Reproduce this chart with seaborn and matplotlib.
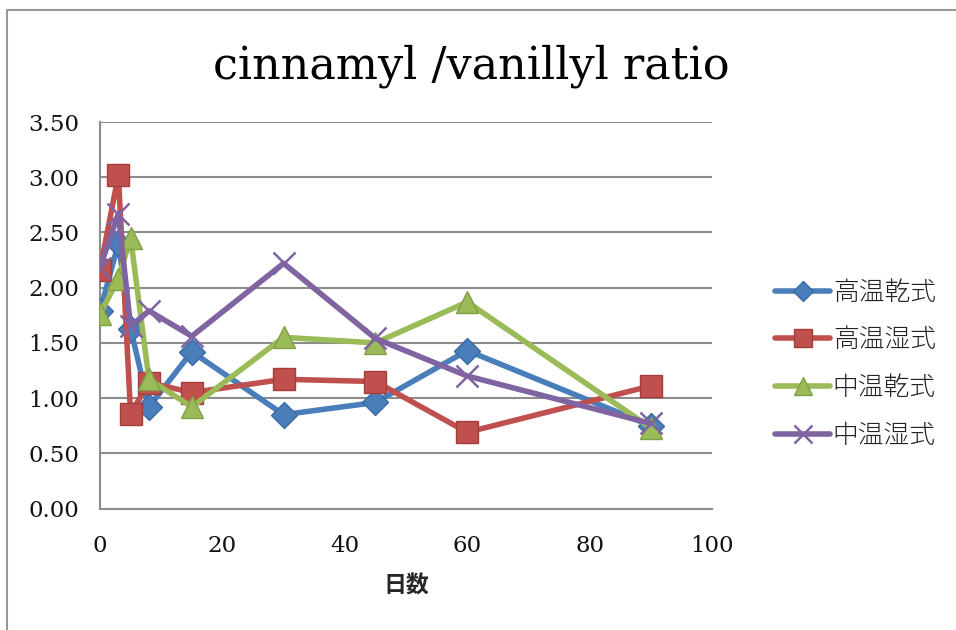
import matplotlib
matplotlib.use("Agg")
import matplotlib.pyplot as plt
from matplotlib.lines import Line2D
import seaborn as sns
import pandas as pd

# ---- data ----
days = [0, 3, 5, 8, 15, 30, 45, 60, 90]
series_names = ["高温乾式", "高温湿式", "中温乾式", "中温湿式"]
high_dry = [1.79, 2.40, 1.63, 0.92, 1.42, 0.85, 0.96, 1.43, 0.75]
high_wet = [2.16, 3.02, 0.86, 1.14, 1.05, 1.17, 1.15, 0.69, 1.11]
mid_dry = [1.76, 2.08, 2.45, 1.17, 0.92, 1.55, 1.50, 1.87, 0.73]
mid_wet = [2.18, 2.67, 1.65, 1.79, 1.56, 2.22, 1.54, 1.20, 0.77]
y_ticks = [0.0, 0.5, 1.0, 1.5, 2.0, 2.5, 3.0, 3.5]
x_ticks = [0, 20, 40, 60, 80, 100]
title = "cinnamyl /vanillyl ratio"
x_label = "日数"

values = [high_dry, high_wet, mid_dry, mid_wet]
df = pd.concat(
    [pd.DataFrame({"days": days, "value": v, "series": n}) for n, v in zip(series_names, values)],
    ignore_index=True,
)

colors = ["#4A7EBB", "#C0504D", "#9BBB59", "#8064A2"]
edge = ["#3A6AA5", "#A33D3A", "#7FA043", "#8064A2"]
markers = ["D", "s", "^", "x"]
msizes = [13, 15.5, 16, 16]

sns.set_theme(style="white")
plt.rcParams["font.family"] = ["DejaVu Serif", "Noto Sans CJK JP"]

fig = plt.figure(figsize=(9.56, 6.3), dpi=100)
ax = fig.add_axes([100 / 956, 1 - 508.5 / 630, 612 / 956, 386.5 / 630])

for i, name in enumerate(series_names):
    sub = df[df["series"] == name]
    sns.lineplot(
        data=sub, x="days", y="value", ax=ax, color=colors[i], linewidth=4.0,
        marker=markers[i], markersize=msizes[i], markerfacecolor=colors[i],
        markeredgecolor=edge[i], markeredgewidth=(1.8 if markers[i] == "x" else 1.0),
        legend=False, zorder=3 + i,
    )

ax.set_xlim(0, 100)
ax.set_ylim(0, 3.5)
ax.set_xticks(x_ticks)
ax.set_yticks(y_ticks)
ax.set_yticklabels([f"{t:.2f}" for t in y_ticks])
ax.grid(axis="y", color="#8C8C8C", linewidth=1.5)
ax.grid(axis="x", visible=False)
ax.set_axisbelow(True)
for s in ["top", "right"]:
    ax.spines[s].set_visible(False)
for s in ["left", "bottom"]:
    ax.spines[s].set_color("#8C8C8C")
    ax.spines[s].set_linewidth(1.5)
ax.tick_params(axis="both", which="major", length=7, width=1.5, color="#8C8C8C",
               labelsize=16.5, labelcolor="#111111", direction="out")
ax.tick_params(axis="y", pad=8)
ax.tick_params(axis="x", pad=12)
ax.set_xlabel(x_label, family=["Noto Sans CJK JP"], fontweight="bold", fontsize=16.5, labelpad=13)
ax.set_ylabel("")

fig.text(471 / 956, 1 - 66 / 630, title, ha="center", va="center", fontsize=32,
         family="DejaVu Serif", color="#000000")

handles = [
    Line2D([0], [0], color=colors[i], lw=4.0, marker=markers[i], markersize=msizes[i] * 0.8,
           markerfacecolor=colors[i], markeredgecolor=edge[i],
           markeredgewidth=(1.8 if markers[i] == "x" else 1.0), solid_capstyle="round")
    for i in range(4)
]
leg = fig.legend(handles, series_names, loc="center left", bbox_to_anchor=(775 / 956, 1 - 364 / 630),
                 frameon=False, handlelength=2.15, handletextpad=0.1, labelspacing=0.82,
                 borderpad=0, borderaxespad=0,
                 prop={"family": ["Noto Sans CJK JP"], "size": 18.5, "weight": "light"})
for t in leg.get_texts():
    t.set_color("#222222")

# outer chart border (left and top edges visible)
fig.add_artist(Line2D([7 / 956, 7 / 956], [0, 1 - 10 / 630], transform=fig.transFigure, color="#999999", lw=1.5))
fig.add_artist(Line2D([7 / 956, 1], [1 - 10 / 630, 1 - 10 / 630], transform=fig.transFigure, color="#999999", lw=1.5))

fig.savefig("out.png", dpi=100, facecolor="white")
